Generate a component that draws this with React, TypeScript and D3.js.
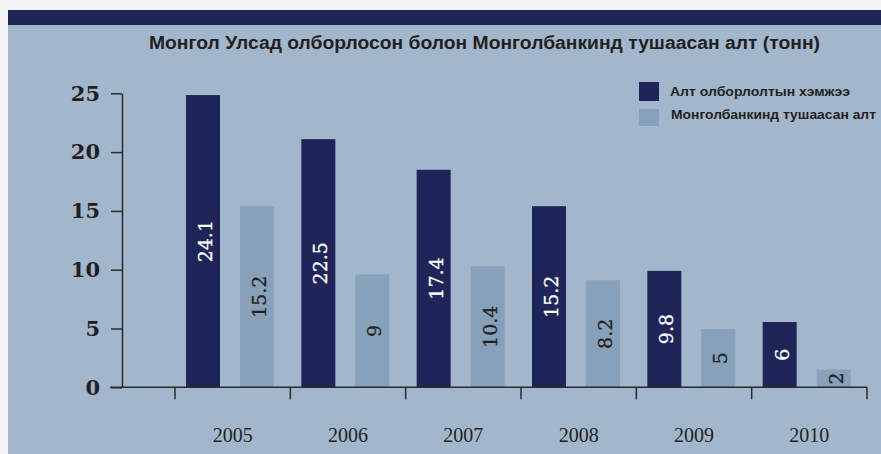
import React, { useEffect, useRef } from 'react';
import { select, scaleBand, scaleLinear, axisLeft } from 'd3';

// data
const years = ["2005", "2006", "2007", "2008", "2009", "2010"];
const series = ["Алт олборлолтын хэмжээ", "Монголбанкинд тушаасан алт"];
// bar heights as drawn
const mined = [24.85, 21.1, 18.5, 15.4, 9.9, 5.55];
const delivered = [15.4, 9.6, 10.3, 9.1, 4.95, 1.5];
// values printed on the bars
const minedLabels = ["24.1", "22.5", "17.4", "15.2", "9.8", "6"];
const deliveredLabels = ["15.2", "9", "10.4", "8.2", "5", "2"];
const yTicks = [0, 5, 10, 15, 20, 25];
const title = "Монгол Улсад олборлосон болон Монголбанкинд тушаасан алт (тонн)";

const W = 881;
const H = 454;
const colors = ["#1f2558", "#86a1b9"];

const App = () => {
    const ref = useRef<SVGSVGElement>(null);

    useEffect(() => {
        const svg = select(ref.current);
        svg.selectAll("*").remove();

        // background
        svg.append("rect").attr("width", W).attr("height", H).attr("fill", "#f4f4f4");
        svg.append("rect").attr("x", 8).attr("y", 10).attr("width", W - 8).attr("height", H - 10).attr("fill", "#a3b7cc");
        svg.append("rect").attr("x", 8).attr("y", 10).attr("width", W - 8).attr("height", 15).attr("fill", "#1f2657");

        svg.append("text")
            .attr("x", 149).attr("y", 49)
            .attr("font-family", "Liberation Sans, Arial, sans-serif")
            .attr("font-weight", "bold")
            .attr("font-size", 18)
            .attr("fill", "#231f20")
            .attr("textLength", 671)
            .attr("lengthAdjust", "spacingAndGlyphs")
            .text(title);

        const x = scaleBand().domain(years).range([175, 867]);
        const xSub = scaleBand().domain(series).range([11, 99]).paddingInner(20 / 54);
        const y = scaleLinear().domain([0, 25]).range([387.3, 93.3]);

        // y axis
        const yAxis = axisLeft(y).tickValues(yTicks).tickSize(11).tickSizeOuter(0).tickPadding(11);
        const gy = svg.append("g").attr("transform", "translate(122,0)").call(yAxis);
        gy.select(".domain").attr("stroke", "#2b2b2b").attr("stroke-width", 1.5);
        gy.selectAll(".tick line").attr("stroke", "#2b2b2b").attr("stroke-width", 1.5);
        gy.selectAll(".tick text")
            .attr("font-family", "DejaVu Serif, serif")
            .attr("font-weight", "bold")
            .attr("font-size", 21)
            .attr("fill", "#231f20");

        // bars
        const rows = years.map((yr, i) => ({
            year: yr,
            vals: [
                { s: series[0], v: mined[i], label: minedLabels[i] },
                { s: series[1], v: delivered[i], label: deliveredLabels[i] },
            ],
        }));

        const groups = svg.append("g").selectAll("g")
            .data(rows)
            .enter().append("g")
            .attr("transform", (d) => "translate(" + x(d.year) + ",0)");

        groups.selectAll("rect")
            .data((d) => d.vals)
            .enter().append("rect")
            .attr("x", (d) => xSub(d.s))
            .attr("y", (d) => y(d.v))
            .attr("width", xSub.bandwidth())
            .attr("height", (d) => y(0) - y(d.v))
            .attr("fill", (d, i) => colors[i]);

        groups.selectAll("text")
            .data((d) => d.vals)
            .enter().append("text")
            .attr("transform", (d) => {
                const cx = xSub(d.s) + xSub.bandwidth() / 2 + 2;
                const cy = (y(d.v) + y(0)) / 2;
                return "translate(" + cx + "," + cy + ") rotate(-90)";
            })
            .attr("text-anchor", "middle")
            .attr("dy", "0.36em")
            .attr("font-family", "DejaVu Serif, serif")
            .attr("font-size", 19)
            .attr("fill", (d, i) => (i === 0 ? "#ffffff" : "#231f20"))
            .attr("stroke", (d, i) => (i === 0 ? "#ffffff" : "#231f20"))
            .attr("stroke-width", 0.3)
            .text((d) => d.label);

        // x axis
        const axisCol = "#2b2b2b";
        svg.append("line")
            .attr("x1", 110).attr("x2", x.range()[1])
            .attr("y1", y(0)).attr("y2", y(0))
            .attr("stroke", axisCol).attr("stroke-width", 1.5);
        const bounds = years.map((yr) => x(yr)).concat([x.range()[1]]);
        svg.append("g").selectAll("line")
            .data(bounds)
            .enter().append("line")
            .attr("x1", (d) => d).attr("x2", (d) => d)
            .attr("y1", y(0)).attr("y2", y(0) + 12)
            .attr("stroke", axisCol).attr("stroke-width", 1.5);
        svg.append("g").selectAll("text")
            .data(years)
            .enter().append("text")
            .attr("x", (d) => x(d) + x.bandwidth() / 2)
            .attr("y", 442)
            .attr("text-anchor", "middle")
            .attr("font-family", "Liberation Serif, Times New Roman, serif")
            .attr("font-size", 20)
            .attr("fill", "#231f20")
            .text((d) => d);

        // legend
        const legendY = [82, 109];
        const legendH = [19, 17];
        const legendW = [180, 205];
        series.forEach((s, i) => {
            svg.append("rect")
                .attr("x", 639).attr("y", legendY[i])
                .attr("width", 20).attr("height", legendH[i])
                .attr("fill", colors[i]);
            svg.append("text")
                .attr("x", 670 + i).attr("y", legendY[i] + 14 + i * -4)
                .attr("font-family", "Liberation Sans, Arial, sans-serif")
                .attr("font-weight", "bold")
                .attr("font-size", 13)
                .attr("fill", "#231f20")
                .attr("textLength", legendW[i])
                .attr("lengthAdjust", "spacingAndGlyphs")
                .text(s);
        });
    }, []);

    return (
        <div style={{ position: 'absolute', left: 0, top: 0 }}>
            <svg ref={ref} width={W} height={H} style={{ display: 'block' }}></svg>
        </div>
    );
};

export default App;
